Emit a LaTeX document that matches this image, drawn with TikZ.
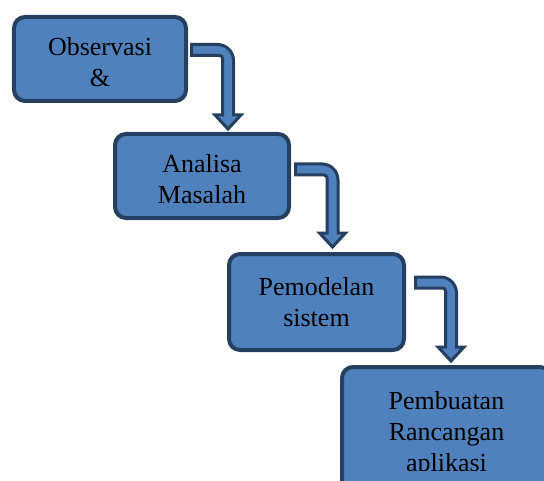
\documentclass[tikz,border=0pt]{standalone}
\usepackage{fontspec}
\setmainfont{Liberation Serif}
\definecolor{boxfill}{HTML}{4F81BD}
\definecolor{boxline}{HTML}{243F60}
\newcommand\bentarrow[4]{% #1 start x, #2 shaft y, #3 drop x, #4 tip y
  \draw[arrowshape] (#1,#2-5.5) -- (#3+5.5-16,#2-5.5)
    arc[start angle=-90,end angle=0,radius=16]
    -- (#3+5.5,#4-14) -- (#3+13,#4-14) -- (#3,#4) -- (#3-13,#4-14)
    -- (#3-5.5,#4-14) -- (#3-5.5,#2+5.5+3)
    arc[start angle=0,end angle=-90,radius=3]
    -- (#1,#2+5.5) -- cycle;}
\begin{document}
\begin{tikzpicture}[x=1bp,y=-1bp,
  boxtext/.style={align=center,inner sep=0pt,font=\fontsize{26bp}{31bp}\selectfont},
  stepbox/.style={boxtext,draw=boxline,fill=boxfill,line width=4bp,rounded corners=11bp},
  arrowshape/.style={draw=boxline,fill=boxfill,line width=3bp,line join=miter}]
\useasboundingbox (0,0) rectangle (544,481);
\clip (0,0) rectangle (544,481);
\node[stepbox,minimum width=172bp,minimum height=84bp] (b1) at (100,59) {\rule{0pt}{25bp}Observasi\\\&};
\node[stepbox,minimum width=174bp,minimum height=84bp] (b2) at (202,176) {\rule{0pt}{25bp}Analisa\\Masalah};
\node[stepbox,minimum width=175bp,minimum height=96bp] (b3) at (316.5,302) {Pemodelan\\sistem};
\node[stepbox,minimum width=209bp,minimum height=134bp] (b4) at (446.5,434) {};
\begin{scope}
  \clip (342,367) rectangle (544,470);
  \node[boxtext] (t4) at (b4.center) {Pembuatan\\Rancangan\\aplikasi};
\end{scope}
\bentarrow{191.5}{50}{228}{129}
\bentarrow{295.5}{169.5}{332.5}{247}
\bentarrow{415.5}{282.5}{451}{361}
\end{tikzpicture}
\end{document}
